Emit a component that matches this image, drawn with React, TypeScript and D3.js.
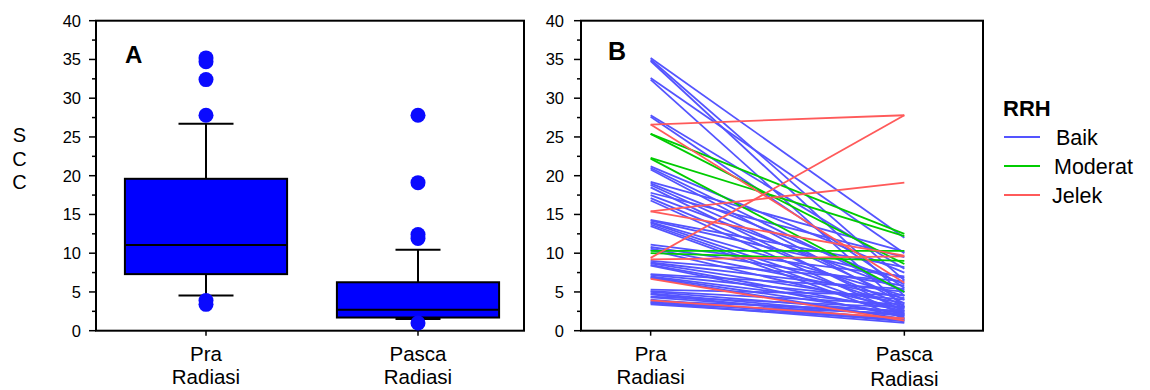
import React, { useEffect, useRef } from 'react'
import * as d3 from 'd3'

// categories
const groups = ['Pra', 'Pasca']
const yTicks = [0, 5, 10, 15, 20, 25, 30, 35, 40]

// box plot stats (panel A): [lowerWhisker, q1, median, q3, upperWhisker]
const boxStats = [
  [4.55, 7.3, 11.05, 19.6, 26.7],
  [1.5, 1.7, 2.7, 6.25, 10.45],
]
const outliers = [
  [35.2, 34.7, 32.4, 27.8, 3.9, 3.4],
  [27.8, 19.1, 12.4, 11.9, 1.0],
]

// paired values (panel B): [pra, pasca]
const baik = [
  [35.2, 12.0], [35.0, 6.5], [34.8, 4.5], [32.6, 10.0], [32.4, 3.0],
  [27.8, 8.0], [27.6, 5.5], [21.2, 7.5], [21.0, 5.0], [20.8, 3.5],
  [19.2, 10.2], [19.0, 6.0], [18.8, 4.0], [18.5, 2.5], [17.8, 9.5],
  [17.5, 5.2], [17.1, 3.2], [16.8, 2.0], [14.3, 8.2], [14.2, 6.8],
  [14.0, 4.5], [13.9, 3.0], [13.7, 2.2], [13.5, 1.6], [11.1, 7.0],
  [10.8, 5.8], [10.6, 4.2], [10.4, 2.8], [9.0, 6.4], [8.8, 5.0],
  [8.7, 3.6], [8.5, 2.6], [8.4, 1.8], [7.3, 5.4], [7.2, 4.0],
  [7.0, 3.0], [6.9, 2.2], [6.8, 1.5], [5.3, 4.6], [5.1, 3.4],
  [5.0, 2.4], [4.8, 1.9], [4.7, 1.3], [4.4, 3.0], [4.3, 2.0],
  [4.0, 1.2], [3.8, 2.6], [3.7, 1.6], [3.6, 1.0], [3.5, 2.2], [3.4, 1.4],
]
const moderat = [
  [25.4, 12.5], [25.4, 8.6], [22.3, 12.2], [22.2, 5.0], [10.3, 10.3], [10.0, 9.0],
]
const jelek = [
  [26.6, 27.8], [26.6, 6.2], [15.4, 19.1], [15.4, 9.7], [9.4, 27.8],
  [9.2, 9.6], [6.7, 1.3], [3.9, 1.6],
]
const legendNames = ['Baik', 'Moderat', 'Jelek']
const legendColors = ['#5454ff', '#00cc00', '#ff5a5a']

const FONT = 'Arial, "Liberation Sans", sans-serif'

const App = () => {
  const svgRef = useRef<SVGSVGElement>(null)

  useEffect(() => {
    const width = 1150
    const height = 390
    const top = 20.7
    const bottom = 330.7

    const svg = d3.select(svgRef.current)
    svg.selectAll('*').remove()
    svg.attr('width', width).attr('height', height).attr('viewBox', [0, 0, width, height])

    const y = d3.scaleLinear().domain([0, 40]).range([bottom, top])

    // draws frame, y ticks and x ticks for one panel
    const drawAxes = (x0, x1, x, labelGap) => {
      const g = svg.append('g')
      g.append('rect')
        .attr('x', x0).attr('y', top)
        .attr('width', x1 - x0).attr('height', bottom - top)
        .attr('fill', 'none').attr('stroke', '#000').attr('stroke-width', 2)
      const minor = d3.range(2.5, 40, 5)
      g.selectAll('.minor').data(minor).join('line')
        .attr('x1', x0 - 4).attr('x2', x0)
        .attr('y1', (d) => y(d)).attr('y2', (d) => y(d))
        .attr('stroke', '#000').attr('stroke-width', 1.5)
      g.selectAll('.major').data(yTicks).join('line')
        .attr('x1', x0 - 7).attr('x2', x0)
        .attr('y1', (d) => y(d)).attr('y2', (d) => y(d))
        .attr('stroke', '#000').attr('stroke-width', 1.5)
      g.selectAll('.ylab').data(yTicks).join('text')
        .attr('x', x0 - labelGap).attr('y', (d) => y(d))
        .attr('dy', '0.36em').attr('text-anchor', 'end')
        .attr('font-family', FONT).attr('font-size', 16.5).attr('fill', '#000')
        .text((d) => d)
      g.selectAll('.xtick').data(groups).join('line')
        .attr('x1', (d) => x(d)).attr('x2', (d) => x(d))
        .attr('y1', bottom).attr('y2', bottom + 5)
        .attr('stroke', '#000').attr('stroke-width', 1.5)
    }

    // ---- Panel A ----
    const xA = d3.scalePoint().domain(groups).range([100, 524]).padding(0.5)
    const boxW = xA.step() * 0.765
    const capW = [55, 45]
    drawAxes(96, 524, xA, 15)

    const boxes = svg.append('g')
    groups.forEach((grp, i) => {
      const [lo, q1, med, q3, hi] = boxStats[i]
      const cx = xA(grp)
      boxes.append('line')
        .attr('x1', cx).attr('x2', cx).attr('y1', y(hi)).attr('y2', y(lo))
        .attr('stroke', '#000').attr('stroke-width', 2)
      ;[hi, lo].forEach((v) => {
        boxes.append('line')
          .attr('x1', cx - capW[i] / 2).attr('x2', cx + capW[i] / 2)
          .attr('y1', y(v)).attr('y2', y(v))
          .attr('stroke', '#000').attr('stroke-width', 2)
      })
      boxes.append('rect')
        .attr('x', cx - boxW / 2).attr('y', y(q3))
        .attr('width', boxW).attr('height', y(q1) - y(q3))
        .attr('fill', '#0000ff').attr('stroke', '#000').attr('stroke-width', 2)
      boxes.append('line')
        .attr('x1', cx - boxW / 2).attr('x2', cx + boxW / 2)
        .attr('y1', y(med)).attr('y2', y(med))
        .attr('stroke', '#000').attr('stroke-width', 2)
      boxes.selectAll(null).data(outliers[i]).join('circle')
        .attr('cx', cx).attr('cy', (d) => y(d)).attr('r', 7.5)
        .attr('fill', '#0a0aff')
    })

    svg.append('text').attr('x', 125).attr('y', 63)
      .attr('font-family', FONT).attr('font-size', 24).attr('font-weight', 'bold')
      .text('A')

    // y title, stacked letters
    svg.selectAll('.ytitle').data(['S', 'C', 'C']).join('text')
      .attr('x', 19.5).attr('y', (d, i) => 142 + i * 23.5)
      .attr('text-anchor', 'middle')
      .attr('font-family', FONT).attr('font-size', 20).attr('fill', '#000')
      .text((d) => d)

    // x labels A
    groups.forEach((grp) => {
      const t = svg.append('text').attr('text-anchor', 'middle')
        .attr('font-family', FONT).attr('font-size', 20.5).attr('fill', '#000')
      t.append('tspan').attr('x', xA(grp)).attr('y', 361).text(grp)
      t.append('tspan').attr('x', xA(grp)).attr('y', 384).text('Radiasi')
    })

    // ---- Panel B ----
    const xB = d3.scalePoint().domain(groups).range([572, 983]).padding(0.31)
    drawAxes(581, 983, xB, 17)

    const line = d3.line<number>()
      .x((d, i) => xB(groups[i]))
      .y((d) => y(d))

    const lines = svg.append('g').attr('fill', 'none').attr('stroke-width', 1.8)
    ;[baik, moderat, jelek].forEach((set, k) => {
      lines.append('g').attr('stroke', legendColors[k])
        .selectAll('path').data(set).join('path')
        .attr('d', (d) => line(d))
    })

    svg.append('text').attr('x', 608).attr('y', 60)
      .attr('font-family', FONT).attr('font-size', 25).attr('font-weight', 'bold')
      .text('B')

    groups.forEach((grp, i) => {
      const t = svg.append('text').attr('text-anchor', 'middle')
        .attr('font-family', FONT).attr('font-size', 20.5).attr('fill', '#000')
      t.append('tspan').attr('x', xB(grp)).attr('y', 361).text(grp)
      t.append('tspan').attr('x', xB(grp)).attr('y', i === 0 ? 384 : 386).text('Radiasi')
    })

    // legend
    const legend = svg.append('g')
    legend.append('text').attr('x', 1003).attr('y', 116)
      .attr('font-family', FONT).attr('font-size', 22).attr('font-weight', 'bold')
      .text('RRH')
    legendNames.forEach((name, i) => {
      const ly = 137 + i * 29
      legend.append('line')
        .attr('x1', 1004).attr('x2', 1040).attr('y1', ly).attr('y2', ly)
        .attr('stroke', legendColors[i]).attr('stroke-width', 1.8)
      legend.append('text').attr('x', 1056 - i * 2).attr('y', ly).attr('dy', '0.36em')
        .attr('font-family', FONT).attr('font-size', 21.5).attr('fill', '#000')
        .text(name)
    })
  }, [])

  return <svg ref={svgRef} style={{ position: 'absolute', left: 0, top: 0 }}></svg>
}

export default App
